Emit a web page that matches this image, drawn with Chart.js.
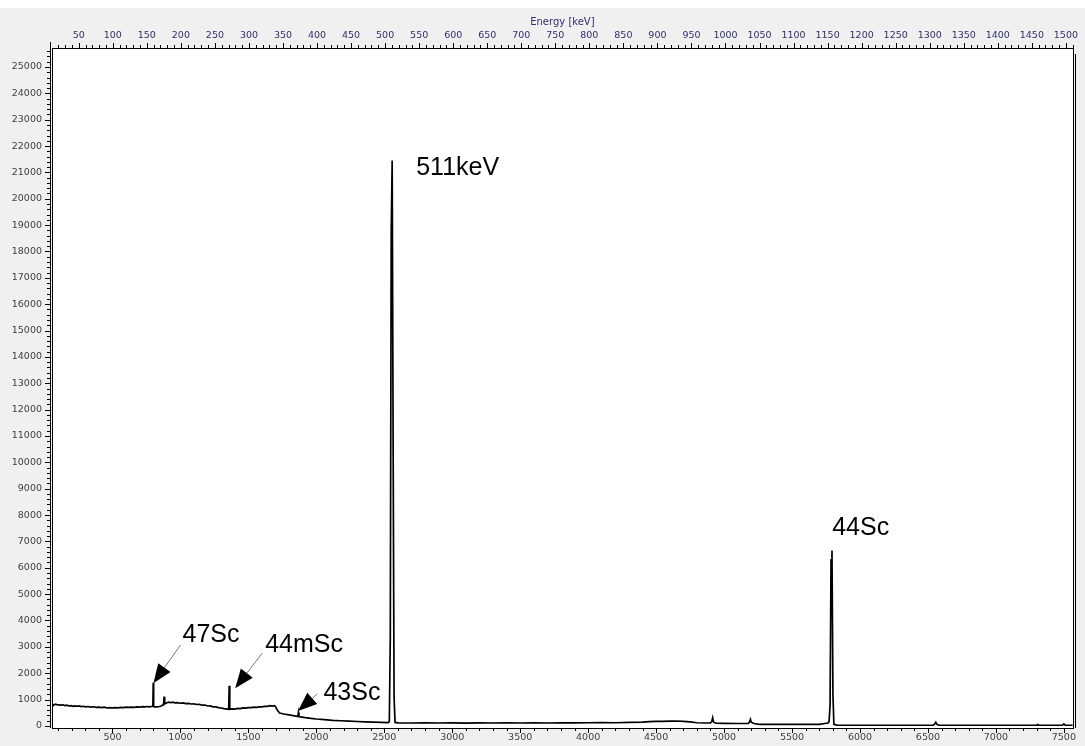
<!DOCTYPE html>
<html>
<head>
<meta charset="utf-8">
<script src="https://cdn.jsdelivr.net/npm/chart.js@4.4.1/dist/chart.umd.min.js"></script>
<style>
  html, body { margin: 0; padding: 0; background: #f0f0f0; }
  canvas { display: block; }
</style>
</head>
<body>
<canvas id="spectrum" width="1085" height="746"></canvas>
<script>
// =========================
// Spectrum data (channel -> counts)
// =========================
const channels = [
  55, 62, 70, 80, 90, 105, 120, 135, 150, 165, 180, 195, 210, 225, 240, 255, 270, 285, 300, 320,
  340, 360, 380, 400, 420, 440, 460, 480, 500, 520, 540, 560, 580, 600, 620, 640, 660, 680, 700, 720,
  740, 760, 770, 790, 797, 800, 803, 808, 830, 855, 872, 876, 880, 884, 900, 915, 930, 945, 960, 980,
  1000, 1020, 1040, 1060, 1080, 1100, 1120, 1140, 1160, 1180, 1200, 1220, 1240, 1260, 1280, 1300, 1320, 1345, 1355, 1359,
  1363, 1380, 1400, 1420, 1440, 1460, 1480, 1500, 1520, 1540, 1560, 1580, 1600, 1620, 1640, 1660, 1675, 1690, 1700, 1712,
  1730, 1760, 1800, 1840, 1860, 1864, 1868, 1872, 1880, 1920, 1960, 2000, 2060, 2120, 2180, 2240, 2300, 2360, 2420, 2480,
  2530, 2537, 2544, 2551, 2558, 2565, 2572, 2579, 2600, 2700, 2800, 2900, 3000, 3100, 3200, 3300, 3400, 3500, 3600, 3700,
  3800, 3900, 4000, 4100, 4200, 4300, 4400, 4450, 4500, 4550, 4600, 4650, 4700, 4750, 4800, 4850, 4900, 4910, 4916, 4922,
  4940, 5000, 5100, 5180, 5188, 5194, 5200, 5220, 5260, 5300, 5400, 5500, 5600, 5700, 5740, 5766, 5773, 5780, 5787, 5794,
  5801, 5808, 5830, 5900, 6000, 6200, 6400, 6540, 6550, 6558, 6566, 6580, 6800, 7000, 7300, 7308, 7316, 7490, 7500, 7510,
  7566
];
const counts = [
  770, 810, 795, 820, 805, 800, 785, 800, 770, 785, 755, 770, 740, 760, 745, 755, 730, 745, 725, 735,
  710, 725, 705, 715, 695, 710, 680, 695, 680, 690, 685, 700, 690, 710, 700, 715, 705, 720, 710, 728,
  720, 735, 725, 738, 745, 1640, 740, 722, 718, 745, 800, 820, 1110, 835, 880, 900, 885, 898, 870, 882,
  860, 870, 845, 852, 830, 838, 812, 815, 785, 790, 755, 758, 725, 722, 695, 680, 655, 635, 628, 1520,
  632, 645, 640, 662, 655, 682, 675, 695, 690, 710, 705, 722, 720, 742, 738, 765, 752, 770, 735, 600,
  490, 450, 415, 380, 362, 360, 505, 352, 345, 312, 288, 262, 238, 212, 196, 180, 166, 156, 146, 136,
  126, 180, 3300, 18800, 21450, 10700, 1100, 130, 115, 110, 120, 110, 115, 105, 115, 110, 120, 110, 115, 110,
  120, 115, 120, 125, 120, 130, 140, 160, 170, 175, 182, 186, 175, 150, 120, 110, 110, 180, 310, 150,
  100, 95, 90, 90, 160, 250, 140, 90, 60, 55, 55, 55, 55, 60, 90, 110, 180, 800, 6300, 6650,
  1200, 60, 30, 25, 25, 25, 25, 25, 70, 140, 60, 25, 25, 25, 25, 55, 25, 25, 75, 25,
  25
];

// Axis ranges and tick labels
const channelRange = [55, 7566];
const countRange = [-80, 25720];
const channelTicks = [500, 1000, 1500, 2000, 2500, 3000, 3500, 4000, 4500, 5000, 5500, 6000, 6500, 7000, 7500];
const countTicks = [0, 1000, 2000, 3000, 4000, 5000, 6000, 7000, 8000, 9000, 10000, 11000, 12000, 13000,
  14000, 15000, 16000, 17000, 18000, 19000, 20000, 21000, 22000, 23000, 24000, 25000];
const energyTicks = [50, 100, 150, 200, 250, 300, 350, 400, 450, 500, 550, 600, 650, 700, 750, 800, 850, 900,
  950, 1000, 1050, 1100, 1150, 1200, 1250, 1300, 1350, 1400, 1450, 1500];

// Energy calibration (keV per channel)
const keVPerChannel = 0.19964;
const keVOffset = -0.3;
const toKeV = ch => ch * keVPerChannel + keVOffset;

// Peak labels (anchored in data coordinates)
const peakLabels = ['511keV', '44Sc', '47Sc', '44mSc', '43Sc'];
const peakLabelChannel = [3040, 6005, 1225, 1910, 2262];
const peakLabelCounts = [21150, 7500, 3440, 3050, 1250];

// Arrows pointing at the small peaks
const arrowTailChannel = [1001, 1602, 2006];
const arrowTailCounts = [3070, 2760, 1210];
const arrowTipChannel = [801, 1403, 1865];
const arrowTipCounts = [1620, 1430, 569];

// =========================
// Styling helpers
// =========================
const tickFont = { family: 'DejaVu Sans', size: 9.5 };
const grayText = '#3e3e3e';
const navyText = '#2f2f6b';
const plainNumber = v => String(v);

// Frame, minor ticks and annotations
const framePlugin = {
    id: 'framePlugin',
    beforeDraw(chart) {
        const { ctx, chartArea: a, width, height } = chart;
        ctx.save();
        ctx.fillStyle = '#f0f0f0';
        ctx.fillRect(0, 0, width, height);
        ctx.fillStyle = '#ffffff';
        ctx.fillRect(0, 0, width, 8);
        ctx.fillRect(a.left, a.top, a.right - a.left, a.bottom - a.top);
        ctx.restore();
    },
    afterDraw(chart) {
        const { ctx, chartArea: a, scales } = chart;
        ctx.save();
        ctx.strokeStyle = '#000';
        ctx.lineWidth = 1;

        // plot border + double line on the sides
        ctx.strokeRect(Math.round(a.left) + 0.5, Math.round(a.top) + 0.5,
            Math.round(a.right - a.left), Math.round(a.bottom - a.top));
        ctx.beginPath();
        ctx.moveTo(Math.round(a.left) - 1.5, a.top - 6);
        ctx.lineTo(Math.round(a.left) - 1.5, a.bottom);
        ctx.moveTo(Math.round(a.right) + 2.5, a.top + 6);
        ctx.lineTo(Math.round(a.right) + 2.5, a.bottom);
        ctx.stroke();

        // tick marks
        const tickSet = (scale, step, majorEvery, side) => {
            const lo = Math.ceil(scale.min / step) * step;
            ctx.beginPath();
            for (let v = lo; v <= scale.max; v += step) {
                const p = Math.round(scale.getPixelForValue(v)) + 0.5;
                const len = (Math.round(v / step) % majorEvery === 0) ? 5 : 3;
                if (side === 'bottom') { ctx.moveTo(p, a.bottom); ctx.lineTo(p, a.bottom + len); }
                if (side === 'top') { ctx.moveTo(p, a.top); ctx.lineTo(p, a.top - len); }
                if (side === 'left') { ctx.moveTo(a.left - 2, p); ctx.lineTo(a.left - 2 - len, p); }
            }
            ctx.stroke();
        };
        tickSet(scales.x, 100, 5, 'bottom');
        tickSet(scales.x2, 10, 5, 'top');
        tickSet(scales.y, 200, 5, 'left');

        // arrows
        const xs = scales.x, ys = scales.y;
        for (let i = 0; i < arrowTipChannel.length; i++) {
            const x0 = xs.getPixelForValue(arrowTailChannel[i]), y0 = ys.getPixelForValue(arrowTailCounts[i]);
            const x1 = xs.getPixelForValue(arrowTipChannel[i]), y1 = ys.getPixelForValue(arrowTipCounts[i]);
            const ang = Math.atan2(y1 - y0, x1 - x0);
            const head = 19, half = 7.5;
            const bx = x1 - head * Math.cos(ang), by = y1 - head * Math.sin(ang);
            ctx.strokeStyle = '#7a7a7a';
            ctx.beginPath();
            ctx.moveTo(x0, y0);
            ctx.lineTo(bx, by);
            ctx.stroke();
            ctx.fillStyle = '#000';
            ctx.beginPath();
            ctx.moveTo(x1, y1);
            ctx.lineTo(bx + half * Math.sin(ang), by - half * Math.cos(ang));
            ctx.lineTo(bx - half * Math.sin(ang), by + half * Math.cos(ang));
            ctx.closePath();
            ctx.fill();
        }

        // peak labels
        ctx.fillStyle = '#000';
        ctx.font = '25px "Liberation Sans", Arial, sans-serif';
        ctx.textAlign = 'center';
        ctx.textBaseline = 'middle';
        peakLabels.forEach((t, i) => {
            ctx.fillText(t, xs.getPixelForValue(peakLabelChannel[i]), ys.getPixelForValue(peakLabelCounts[i]));
        });
        ctx.restore();
    }
};

// =========================
// Render the spectrum
// =========================
const ctx = document.getElementById('spectrum');
const chart = new Chart(ctx, {
    type: 'line',
    data: {
        datasets: [{
            data: channels.map((c, i) => ({ x: c, y: counts[i] })),
            borderColor: '#000',
            borderWidth: 1.7,
            pointRadius: 0,
            tension: 0,
            fill: false
        }]
    },
    options: {
        responsive: false,
        animation: false,
        devicePixelRatio: 1,
        layout: { padding: { left: 0, right: 4, top: 0, bottom: 0 } },
        plugins: { legend: { display: false }, tooltip: { enabled: false } },
        scales: {
            x: {
                type: 'linear', position: 'bottom',
                min: channelRange[0], max: channelRange[1],
                afterBuildTicks: s => { s.ticks = channelTicks.map(v => ({ value: v })); },
                afterFit: s => { s.height = 18; },
                grid: { drawOnChartArea: false, drawTicks: false },
                border: { display: false },
                ticks: { padding: 4, font: tickFont, color: grayText, maxRotation: 0, autoSkip: false, callback: plainNumber }
            },
            x2: {
                type: 'linear', position: 'top',
                min: toKeV(channelRange[0]), max: toKeV(channelRange[1]),
                afterBuildTicks: s => { s.ticks = energyTicks.map(v => ({ value: v })); },
                afterFit: s => { s.height = 48; },
                grid: { drawOnChartArea: false, drawTicks: false },
                border: { display: false },
                title: { display: true, text: 'Energy [keV]', color: navyText,
                    font: { family: 'DejaVu Sans', size: 10 }, padding: { top: 16, bottom: 0 } },
                ticks: { padding: 7, font: tickFont, color: navyText, maxRotation: 0, autoSkip: false, callback: plainNumber }
            },
            y: {
                type: 'linear', position: 'left',
                min: countRange[0], max: countRange[1],
                afterBuildTicks: s => { s.ticks = countTicks.map(v => ({ value: v })); },
                afterFit: s => { s.width = 52; },
                grid: { drawOnChartArea: false, drawTicks: false },
                border: { display: false },
                ticks: { padding: 10, font: tickFont, color: grayText, autoSkip: false, callback: plainNumber }
            }
        }
    },
    plugins: [framePlugin]
});
</script>
</body>
</html>
